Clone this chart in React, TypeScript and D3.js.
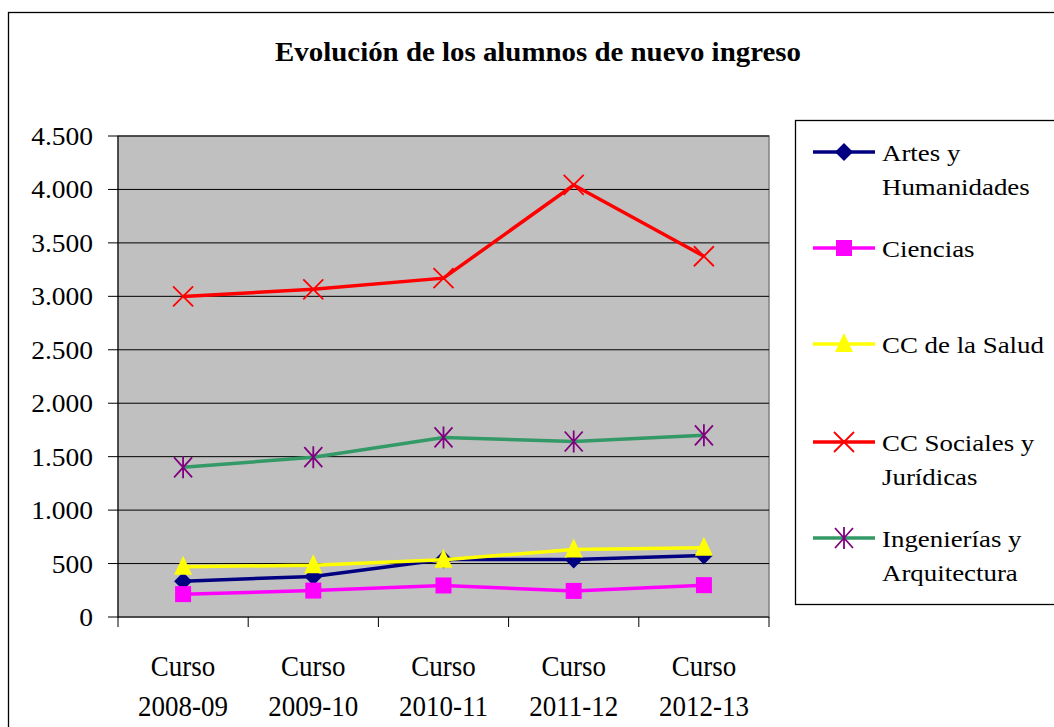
import React from "react";
import * as d3 from "d3";

const categories = ["2008-09", "2009-10", "2010-11", "2011-12", "2012-13"];
const artes = [335, 380, 537, 538, 575];
const ciencias = [214, 247, 295, 244, 298];
const salud = [470, 485, 535, 632, 648];
const sociales = [2999, 3066, 3170, 4042, 3375];
const ingenierias = [1400, 1495, 1680, 1642, 1700];
const yTicks = [0, 500, 1000, 1500, 2000, 2500, 3000, 3500, 4000, 4500];

const seriesNames = [
  ["Artes y", "Humanidades"],
  ["Ciencias"],
  ["CC de la Salud"],
  ["CC Sociales y", "Jurídicas"],
  ["Ingenierías y", "Arquitectura"],
];

type Marker = "diamond" | "square" | "triangle" | "x" | "star";
const series: { values: number[]; line: string; marker: Marker; mcolor: string }[] = [
  { values: artes, line: "#000080", marker: "diamond", mcolor: "#000080" },
  { values: ciencias, line: "#FF00FF", marker: "square", mcolor: "#FF00FF" },
  { values: salud, line: "#FFFF00", marker: "triangle", mcolor: "#FFFF00" },
  { values: sociales, line: "#FF0000", marker: "x", mcolor: "#FF0000" },
  { values: ingenierias, line: "#339966", marker: "star", mcolor: "#800080" },
];

const fmt = d3
  .formatLocale({ decimal: ",", thousands: ".", grouping: [3], currency: ["", ""] })
  .format(",");

const FONT = "'Liberation Serif', Tinos, 'Times New Roman', 'DejaVu Serif', serif";

function MarkerShape({ type, x, y, color }: { type: Marker; x: number; y: number; color: string }) {
  switch (type) {
    case "diamond":
      return <path d={`M${x},${y - 9}L${x + 9},${y}L${x},${y + 9}L${x - 9},${y}Z`} fill={color} />;
    case "square":
      return <rect x={x - 8} y={y - 8} width={16} height={16} fill={color} />;
    case "triangle":
      return <path d={`M${x},${y - 11}L${x + 9},${y + 8}L${x - 9},${y + 8}Z`} fill={color} />;
    case "x":
      return (
        <path d={`M${x - 10},${y - 10}L${x + 10},${y + 10}M${x + 10},${y - 10}L${x - 10},${y + 10}`} stroke={color} strokeWidth={1.8} />
      );
    case "star":
      return (
        <path
          d={`M${x - 9},${y - 10}L${x + 9},${y + 10}M${x + 9},${y - 10}L${x - 9},${y + 10}M${x},${y - 11}L${x},${y + 11}`}
          stroke={color}
          strokeWidth={1.8}
        />
      );
  }
}

function T({
  x,
  y,
  size,
  sx = 1,
  sy = 1,
  anchor = "start",
  bold = false,
  children,
}: {
  x: number;
  y: number;
  size: number;
  sx?: number;
  sy?: number;
  anchor?: string;
  bold?: boolean;
  children: React.ReactNode;
}) {
  return (
    <text
      transform={`translate(${x},${y}) scale(${sx},${sy})`}
      fontSize={size}
      textAnchor={anchor}
      fontWeight={bold ? "bold" : "normal"}
      fill="#000"
      style={{ fontFamily: FONT }}
    >
      {children}
    </text>
  );
}

export default function App() {
  const W = 1054;
  const H = 727;
  const left = 118;
  const right = 769;
  const top = 136;
  const bottom = 617;
  const x = d3.scaleBand<string>().domain(categories).range([left, right]);
  const cx = (c: string) => (x(c) ?? 0) + x.bandwidth() / 2;
  const y = d3.scaleLinear().domain([0, 4500]).range([bottom, top]);
  const line = d3
    .line<number>()
    .x((_, i) => cx(categories[i]))
    .y((d) => y(d));
  const legendRows = [152, 248, 344, 442, 538];

  return (
    <svg width={W} height={H} style={{ position: "absolute", left: 0, top: 0, fontFamily: FONT }}>
      <rect x={0} y={0} width={W} height={H} fill="#fff" />
      <rect x={8.5} y={12.5} width={W + 20} height={H + 20} fill="#fff" stroke="#000" strokeWidth={1.3} />
      <T x={538} y={61} size={27} sx={1.07} anchor="middle" bold>
        Evolución de los alumnos de nuevo ingreso
      </T>
      {/* plot area */}
      <rect x={left} y={top} width={right - left} height={bottom - top} fill="#C0C0C0" stroke="#808080" strokeWidth={1.5} />
      {yTicks.slice(1).map((t) => (
        <line key={t} x1={left} x2={right} y1={y(t)} y2={y(t)} stroke="#000" strokeWidth={1} />
      ))}
      {/* y axis */}
      <line x1={left} x2={left} y1={top} y2={bottom} stroke="#000" />
      {yTicks.map((t) => (
        <g key={t}>
          <line x1={left - 10} x2={left} y1={y(t)} y2={y(t)} stroke="#000" />
          <T x={93} y={y(t) + 9} size={25} sx={1.1} anchor="end">
            {fmt(t)}
          </T>
        </g>
      ))}
      {/* x axis */}
      <line x1={left} x2={right} y1={bottom} y2={bottom} stroke="#000" />
      {[...categories.map((c) => x(c) ?? 0), right].map((v, i) => (
        <line key={i} x1={v} x2={v} y1={bottom} y2={bottom + 10} stroke="#000" />
      ))}
      {categories.map((c) => (
        <g key={c}>
          <T x={cx(c)} y={676} size={27} sy={1.12} anchor="middle">
            Curso
          </T>
          <T x={cx(c)} y={716} size={27} sy={1.12} anchor="middle">
            {c}
          </T>
        </g>
      ))}
      {/* series */}
      {series.map((s, si) => (
        <g key={si}>
          <path d={line(s.values) ?? ""} fill="none" stroke={s.line} strokeWidth={3.5} />
          {s.values.map((v, i) => (
            <MarkerShape key={i} type={s.marker} x={cx(categories[i])} y={y(v)} color={s.mcolor} />
          ))}
        </g>
      ))}
      {/* legend */}
      <rect x={795.5} y={120.5} width={300} height={484} fill="#fff" stroke="#000" strokeWidth={1.3} />
      {series.map((s, si) => (
        <g key={si}>
          <line x1={813} x2={875} y1={legendRows[si]} y2={legendRows[si]} stroke={s.line} strokeWidth={3.5} />
          <MarkerShape type={s.marker} x={844} y={legendRows[si]} color={s.mcolor} />
          {seriesNames[si].map((t, li) => (
            <T key={li} x={882} y={legendRows[si] + 9 + li * 34} size={24} sx={1.12}>
              {t}
            </T>
          ))}
        </g>
      ))}
    </svg>
  );
}
